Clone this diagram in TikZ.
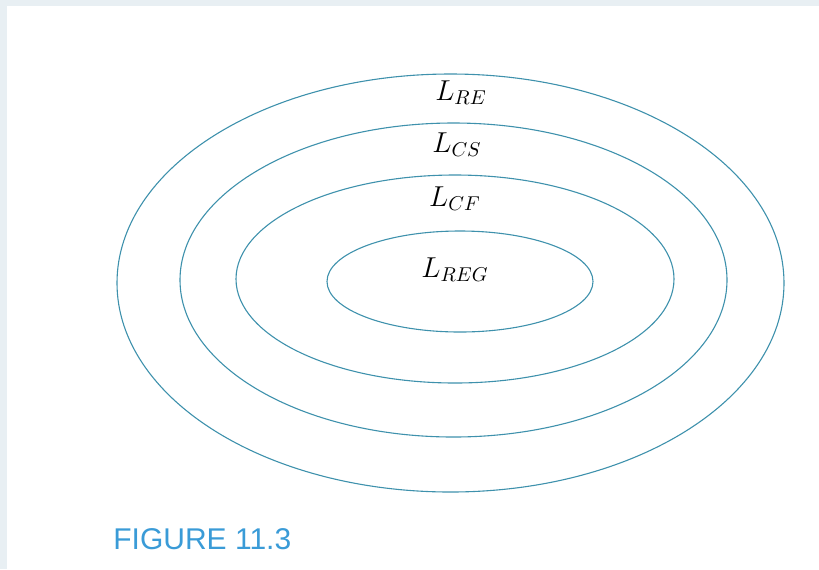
\documentclass[tikz,border=0pt]{standalone}
\usepackage{fontspec}
\newfontfamily\figfont{Liberation Sans}

\definecolor{bandgray}{RGB}{232,239,243}
\definecolor{ringcol}{RGB}{62,145,172}
\definecolor{figblue}{RGB}{58,155,215}

\tikzset{
    ring/.style={draw=ringcol, line width=0.55pt},
    lab/.style={anchor=base, inner sep=0pt, font=\fontsize{14}{16}\selectfont}
}

\begin{document}
\begin{tikzpicture}[x=0.5pt, y=-0.5pt]
    \useasboundingbox (0,0) rectangle (819,569);
    \fill[bandgray] (0,0) rectangle (819,6);
    \fill[bandgray] (0,0) rectangle (7,569);

    \coordinate (RE) at (450.5,283);
    \coordinate (CS) at (453.5,280);
    \coordinate (CF) at (455,279);
    \coordinate (REG) at (460,281.5);

    \draw [ring] (RE) ellipse [x radius=166.75pt, y radius=104.5pt];
    \draw [ring] (CS) ellipse [x radius=136.75pt, y radius=78.5pt];
    \draw [ring] (CF) ellipse [x radius=109.5pt, y radius=52pt];
    \draw [ring] (REG) ellipse [x radius=66.5pt, y radius=25.25pt];

    \node[lab] (lre) at (461,100) {$L_{RE}$};
    \node[lab] (lcs) at (457,152) {$L_{CS}$};
    \node[lab] (lcf) at (455,206) {$L_{CF}$};
    \node[lab] (lreg) at (455,277) {$L_{REG}$};

    \node[anchor=base west, inner sep=0pt, text=figblue,
          font=\figfont\fontsize{15}{18}\selectfont] (fig) at (113,549) {FIGURE 11.3};
\end{tikzpicture}
\end{document}
